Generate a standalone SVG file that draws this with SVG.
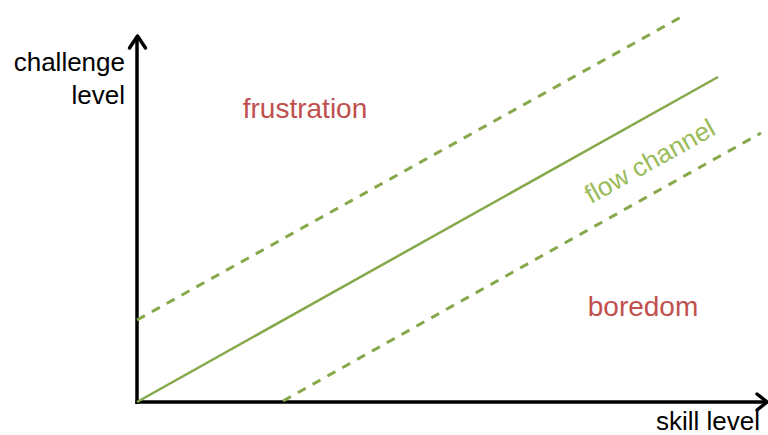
<svg xmlns="http://www.w3.org/2000/svg" width="768" height="435" viewBox="0 0 768 435">
  <style>
    .axis { stroke: #000; stroke-width: 3.5; fill: none; }
    .head { stroke: #000; stroke-width: 3.5; fill: none; stroke-linecap: round; stroke-linejoin: round; }
    .flow { stroke: #86A84A; stroke-width: 2.5; fill: none; }
    .dash { stroke: #86A84A; stroke-width: 3; fill: none; stroke-dasharray: 9 8; }
    .lbl { font-family: "Liberation Sans", Arial, sans-serif; font-size: 26px; }
    .big { font-size: 28px; }
    .black { fill: #000; }
    .red { fill: #C0504D; }
    .green { fill: #9BBB59; }
  </style>
  <g id="connectors">
    <line class="axis" x1="137" y1="404" x2="137" y2="37"/>
    <polyline class="head" points="129.5,48 137.5,36 145.5,48"/>
    <line class="axis" x1="135.5" y1="402" x2="765" y2="402"/>
    <polyline class="head" points="757,394 767,402 757,410"/>
    <line class="flow" x1="137" y1="402" x2="718" y2="77"/>
    <line class="dash" x1="137" y1="320" x2="683" y2="16"/>
    <line class="dash" x1="283" y1="401" x2="761" y2="133"/>
  </g>
  <g id="y-axis-label">
    <text class="lbl black" x="125" y="71" text-anchor="end">challenge</text>
    <text class="lbl black" x="125" y="104" text-anchor="end">level</text>
  </g>
  <g id="x-axis-label">
    <text class="lbl black" x="708" y="430" text-anchor="middle">skill level</text>
  </g>
  <g id="frustration">
    <text class="lbl big red" x="305" y="118" text-anchor="middle">frustration</text>
  </g>
  <g id="boredom">
    <text class="lbl big red" x="643" y="316" text-anchor="middle">boredom</text>
  </g>
  <g id="flow-channel">
    <text class="lbl green" x="0" y="0" text-anchor="middle" transform="translate(654,169) rotate(-29.2)">flow channel</text>
  </g>
</svg>
